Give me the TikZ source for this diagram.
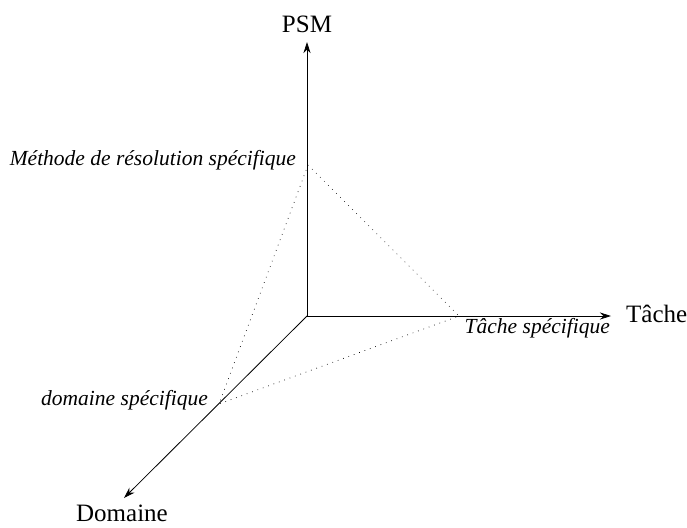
\documentclass[tikz,border=0pt]{standalone}
\usepackage{fontspec}
\setmainfont{Liberation Serif}
\usetikzlibrary{arrows.meta}
\begin{document}
\begin{tikzpicture}[x=1pt,y=-1pt,
  axis/.style={line width=0.8pt,-{Stealth[length=11pt,width=7pt,inset=3.5pt]}},
  dotline/.style={line width=0.7pt,dash pattern=on 0.7pt off 5pt},
  axlabel/.style={font=\fontsize{25}{30}\selectfont,inner sep=0pt},
  speclabel/.style={font=\fontsize{21.5}{26}\selectfont\itshape,inner sep=0pt}]
\useasboundingbox (0,0) rectangle (687,527);
\coordinate (O) at (307,316);
\coordinate (P) at (307,42);
\coordinate (T) at (611,316);
\coordinate (D) at (124,498);
\coordinate (a) at (308,165);
\coordinate (b) at (459,316);
\coordinate (c) at (219,404);
\draw[axis] (O) -- (P);
\draw[axis] (O) -- (T);
\draw[axis] (O) -- (D);
\draw[dotline] (a) -- (b) -- (c) -- cycle;
\node[axlabel,anchor=base] (psm) at (307,33) {PSM};
\node[axlabel,anchor=base west] (tache) at (626,322) {Tâche};
\node[axlabel,anchor=base] (dom) at (122,521) {Domaine};
\node[speclabel,anchor=base east] (meth) at (296,165) {Méthode de résolution spécifique};
\node[speclabel,anchor=base east] (tspec) at (610,333) {Tâche spécifique};
\node[speclabel,anchor=base east] (dspec) at (208,405) {domaine spécifique};
\end{tikzpicture}
\end{document}
